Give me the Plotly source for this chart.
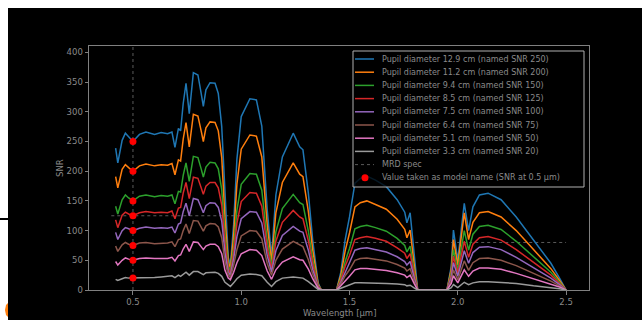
import plotly.graph_objects as go

# ---------------- data ----------------
wavelength_um = [0.42, 0.43, 0.45, 0.465, 0.48, 0.50, 0.53, 0.56, 0.60, 0.63, 0.66, 0.68, 0.694, 0.71, 0.72,
                 0.732, 0.745, 0.76, 0.779, 0.80, 0.815, 0.825, 0.837, 0.856, 0.879, 0.894, 0.91, 0.925, 0.94, 0.95,
                 0.965, 0.98, 1.00, 1.04, 1.07, 1.095, 1.12, 1.14, 1.16, 1.19, 1.24, 1.27, 1.285, 1.31, 1.33,
                 1.355, 1.37, 1.44, 1.46, 1.48, 1.50, 1.525, 1.55, 1.58, 1.62, 1.67, 1.72, 1.755, 1.765, 1.78,
                 1.80, 1.815, 1.95, 1.97, 1.98, 2.00, 2.03, 2.05, 2.07, 2.10, 2.14, 2.20, 2.27, 2.35, 2.43, 2.47, 2.50]

snr_d129 = [239, 214, 252, 264, 258, 250, 262, 266, 262, 265, 263, 266, 240, 272, 268,
            314, 348, 297, 366, 362, 331, 309, 337, 349, 348, 331, 275, 151, 55, 42,
            110, 220, 292, 322, 320, 276, 135, 56, 160, 224, 264, 241, 236, 163, 84,
            12, 0, 0, 30, 85, 123, 180, 188, 192, 185, 174, 152, 131, 113, 130,
            50, 0, 0, 40, 101, 50, 146, 100, 140, 160, 163, 152, 123, 84, 45, 20, 0]
snr_d112 = [191, 172, 203, 211, 206, 200, 209, 212, 209, 211, 210, 213, 194, 219, 217,
            254, 282, 241, 296, 293, 268, 250, 273, 283, 282, 268, 223, 122, 48, 37,
            92, 178, 237, 261, 259, 224, 110, 48, 130, 181, 214, 195, 191, 132, 68,
            10, 0, 0, 25, 66, 96, 140, 147, 150, 144, 136, 119, 102, 88, 101,
            39, 0, 0, 35, 85, 42, 130, 85, 114, 130, 132, 123, 100, 68, 36, 16, 0]
snr_d94 = [141, 128, 152, 160, 155, 150, 158, 160, 157, 159, 158, 160, 145, 166, 165,
           193, 214, 183, 225, 223, 204, 190, 207, 215, 214, 204, 169, 93, 40, 32,
           72, 134, 178, 196, 195, 168, 84, 40, 98, 137, 161, 147, 144, 99, 52,
           8, 0, 0, 19, 48, 70, 103, 107, 109, 105, 99, 87, 75, 64, 74,
           29, 0, 0, 29, 68, 34, 100, 67, 94, 107, 109, 102, 82, 56, 30, 13, 0]
snr_d85 = [118, 105, 126, 131, 128, 125, 130, 132, 130, 131, 130, 133, 120, 138, 139,
           163, 181, 154, 190, 188, 172, 161, 175, 181, 181, 172, 143, 79, 35, 28,
           62, 112, 149, 164, 163, 141, 71, 35, 82, 114, 134, 123, 120, 83, 44,
           7, 0, 0, 16, 40, 58, 85, 88, 90, 87, 82, 71, 62, 53, 61,
           24, 0, 0, 25, 57, 28, 82, 55, 77, 88, 90, 84, 68, 46, 25, 11, 0]
snr_d75 = [97, 85, 100, 105, 103, 100, 104, 106, 104, 105, 104, 106, 96, 111, 113,
           132, 146, 125, 154, 152, 139, 130, 142, 147, 146, 139, 116, 63, 30, 25,
           52, 90, 120, 132, 131, 113, 58, 30, 66, 92, 107, 99, 97, 67, 35,
           5, 0, 0, 13, 31, 46, 67, 70, 71, 68, 64, 56, 48, 42, 48,
           19, 0, 0, 21, 46, 23, 66, 45, 63, 72, 73, 68, 55, 38, 20, 9, 0]
snr_d64 = [74, 65, 76, 80, 77, 75, 79, 80, 78, 79, 79, 81, 73, 85, 86,
           100, 111, 95, 117, 116, 106, 99, 108, 112, 111, 106, 88, 48, 26, 21,
           42, 68, 91, 100, 99, 86, 45, 25, 50, 69, 82, 75, 73, 51, 27,
           4, 0, 0, 10, 24, 34, 50, 53, 54, 52, 49, 43, 37, 32, 36,
           14, 0, 0, 16, 34, 17, 49, 33, 46, 53, 54, 50, 41, 28, 15, 7, 0]
snr_d51 = [48, 42, 50, 54, 52, 50, 53, 54, 53, 53, 53, 55, 49, 58, 59,
           69, 77, 65, 81, 80, 73, 68, 74, 77, 77, 73, 61, 33, 20, 17,
           30, 46, 61, 68, 67, 58, 32, 18, 34, 47, 56, 51, 50, 35, 19,
           3, 0, 0, 7, 16, 23, 34, 36, 36, 35, 33, 29, 25, 21, 25,
           10, 0, 0, 11, 24, 12, 34, 23, 32, 37, 37, 35, 28, 19, 10, 5, 0]
snr_d33 = [18, 16, 19, 21, 20, 20, 21, 21, 21, 22, 23, 24, 21, 25, 23,
           27, 30, 25, 31, 31, 28, 26, 29, 30, 30, 28, 23, 13, 8, 6,
           12, 19, 25, 27, 26, 24, 13, 6, 14, 20, 22, 20, 20, 14, 8,
           1, 0, 0, 3, 6, 8, 12, 12, 12, 12, 11, 10, 9, 7, 8,
           3, 0, 0, 4, 9, 4, 13, 9, 12, 14, 14, 13, 11, 7, 4, 2, 0]

series_labels = [
    "Pupil diameter 12.9 cm (named SNR 250)",
    "Pupil diameter 11.2 cm (named SNR 200)",
    "Pupil diameter 9.4 cm (named SNR 150)",
    "Pupil diameter 8.5 cm (named SNR 125)",
    "Pupil diameter 7.5 cm (named SNR 100)",
    "Pupil diameter 6.4 cm (named SNR 75)",
    "Pupil diameter 5.1 cm (named SNR 50)",
    "Pupil diameter 3.3 cm (named SNR 20)",
]
series_colors = ["#1f77b4", "#ff7f0e", "#2ca02c", "#d62728", "#9467bd", "#8c564b", "#e377c2", "#9a9a9a"]
series_values = [snr_d129, snr_d112, snr_d94, snr_d85, snr_d75, snr_d64, snr_d51, snr_d33]

model_wavelength = 0.5
model_snr = [250, 200, 150, 125, 100, 75, 50, 20]

mrd_vis_wl = [0.4, 1.0]
mrd_vis_snr = [125, 125]
mrd_ir_wl = [1.0, 2.5]
mrd_ir_snr = [80, 80]

x_ticks = [0.5, 1.0, 1.5, 2.0, 2.5]
x_ticklabels = ["0.5", "1.0", "1.5", "2.0", "2.5"]
y_ticks = [0, 50, 100, 150, 200, 250, 300, 350, 400]

# ---------------- layout geometry ----------------
W, H = 642, 320
ML, MR, MT, MB = 89, 53, 46, 30
PW, PH = W - ML - MR, H - MT - MB

def px(xp):
    return (xp - ML) / PW

def py(yp):
    return (H - MB - yp) / PH

TEXT = "#8a8a8a"
DIM = "#5a5a5a"
FONT = "DejaVu Sans"

fig = go.Figure()

# MRD spec (dotted)
fig.add_trace(go.Scatter(x=mrd_vis_wl, y=mrd_vis_snr, mode="lines",
                         line=dict(color=DIM, width=1, dash="dot"), showlegend=False, hoverinfo="skip"))
fig.add_trace(go.Scatter(x=mrd_ir_wl, y=mrd_ir_snr, mode="lines",
                         line=dict(color=DIM, width=1, dash="dot"), showlegend=False, hoverinfo="skip"))
fig.add_trace(go.Scatter(x=[model_wavelength, model_wavelength], y=[0, 411], mode="lines",
                         line=dict(color=DIM, width=1, dash="dot"), showlegend=False, hoverinfo="skip"))

for lab, col, vals in zip(series_labels, series_colors, series_values):
    fig.add_trace(go.Scatter(x=wavelength_um, y=vals, mode="lines", name=lab,
                             line=dict(color=col, width=1.5), showlegend=False))

fig.add_trace(go.Scatter(x=[model_wavelength] * len(model_snr), y=model_snr, mode="markers",
                         marker=dict(color="#ff0000", size=7), showlegend=False))

shapes = []
annotations = []

# page decorations: white strips at top and left, edge artefacts
shapes.append(dict(type="rect", xref="paper", yref="paper", x0=-0.5, x1=1.5, y0=py(8), y1=1.5,
                   fillcolor="white", line=dict(width=0), layer="above"))
shapes.append(dict(type="rect", xref="paper", yref="paper", x0=-0.5, x1=px(8), y0=-0.5, y1=1.5,
                   fillcolor="white", line=dict(width=0), layer="above"))
shapes.append(dict(type="line", xref="paper", yref="paper", x0=px(0), x1=px(8), y0=py(219), y1=py(219),
                   line=dict(color="black", width=2), layer="above"))
shapes.append(dict(type="path", xref="paper", yref="paper",
                   path="M {},{} L {},{} L {},{} L {},{} L {},{} Z".format(
                       px(8), py(303), px(6), py(305), px(5), py(310), px(6), py(315), px(8), py(317)),
                   fillcolor="#ff7f0e", line=dict(width=0), layer="above"))

# legend box
LX0, LX1, LY0, LY1 = 353, 584, 51, 187
shapes.append(dict(type="rect", xref="paper", yref="paper", x0=px(LX0), x1=px(LX1), y0=py(LY1), y1=py(LY0),
                   fillcolor="rgba(0,0,0,0.8)", line=dict(color="#b0b0b0", width=1), layer="above"))
row0, step = 59, 13.2
legend_texts = series_labels + ["MRD spec", "Value taken as model name (SNR at 0.5 \u00b5m)"]
for i, txt in enumerate(legend_texts):
    yc = row0 + i * step
    if i < len(series_colors):
        shapes.append(dict(type="line", xref="paper", yref="paper", x0=px(355), x1=px(374),
                           y0=py(yc), y1=py(yc), line=dict(color=series_colors[i], width=1.5), layer="above"))
    elif i == len(series_colors):
        shapes.append(dict(type="line", xref="paper", yref="paper", x0=px(355), x1=px(374),
                           y0=py(yc), y1=py(yc), line=dict(color=DIM, width=1, dash="dot"), layer="above"))
    else:
        shapes.append(dict(type="circle", xref="paper", yref="paper", x0=px(361.5), x1=px(368.5),
                           y0=py(yc + 3.5), y1=py(yc - 3.5), fillcolor="#ff0000", line=dict(width=0),
                           layer="above"))
    annotations.append(dict(xref="paper", yref="paper", x=px(380), y=py(yc), text=txt, showarrow=False,
                            xanchor="left", yanchor="middle", font=dict(family=FONT, size=8, color=TEXT)))

# axis titles
annotations.append(dict(xref="paper", yref="paper", x=0.5, y=py(313), text="Wavelength [\u03bcm]",
                        showarrow=False, xanchor="center", yanchor="middle",
                        font=dict(family=FONT, size=8.5, color=TEXT)))
annotations.append(dict(xref="paper", yref="paper", x=px(60), y=0.5, text="SNR", textangle=-90,
                        showarrow=False, xanchor="center", yanchor="middle",
                        font=dict(family=FONT, size=8.5, color=TEXT)))

fig.update_layout(
    width=W, height=H,
    margin=dict(l=ML, r=MR, t=MT, b=MB, pad=0),
    paper_bgcolor="black", plot_bgcolor="black",
    showlegend=False,
    shapes=shapes, annotations=annotations,
    font=dict(family=FONT, size=8.5, color=TEXT),
)
fig.update_xaxes(range=[0.297, 2.606], tickvals=x_ticks, ticktext=x_ticklabels, showgrid=False, zeroline=False,
                 showline=True, mirror=True, linecolor="#808080", linewidth=1,
                 ticks="outside", ticklen=3.5, tickcolor="#808080",
                 tickfont=dict(family=FONT, size=8.5, color=TEXT))
fig.update_yaxes(range=[0, 410.8], tickvals=y_ticks, showgrid=False, zeroline=False,
                 showline=True, mirror=True, linecolor="#808080", linewidth=1,
                 ticks="outside", ticklen=3.5, tickcolor="#808080",
                 tickfont=dict(family=FONT, size=8.5, color=TEXT))

fig.write_html("out.html")
